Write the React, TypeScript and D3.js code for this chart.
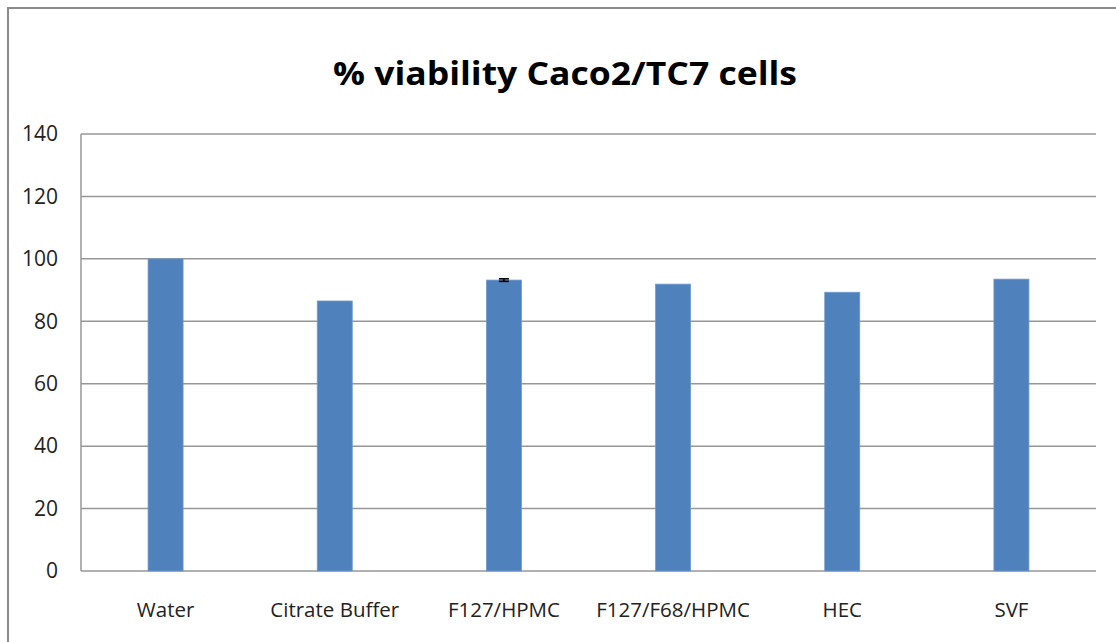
import React from 'react';
import * as d3 from 'd3';

const categories = ['Water', 'Citrate Buffer', 'F127/HPMC', 'F127/F68/HPMC', 'HEC', 'SVF'];
const viability = [100, 86.5, 93.2, 91.9, 89.3, 93.5];
const errors = [0, 0, 0.4, 0, 0, 0];
const yTicks = [0, 20, 40, 60, 80, 100, 120, 140];
const title = '% viability Caco2/TC7 cells';

const width = 1116;
const height = 642;
const margin = { top: 134, right: 20, bottom: 71, left: 81 };

const App: React.FC = () => {
  const innerW = 1096 - margin.left;
  const innerH = 571 - margin.top;

  const x = d3.scaleBand<string>().domain(categories).range([0, innerW]).padding(0);
  const y = d3.scaleLinear().domain([0, 140]).range([innerH, 0]);
  const barW = x.bandwidth() * 0.207;

  return (
    <svg width={width} height={height} style={{ position: 'absolute', left: 0, top: 0, background: '#fff' }}>
      {/* outer chart frame */}
      <rect x={8} y={8} width={1130} height={660} fill="#fff" stroke="#8a8a8a" strokeWidth={2} />
      <text
        x={565}
        y={85}
        textAnchor="middle"
        fontFamily="'Open Sans', sans-serif"
        fontWeight="bold"
        fontSize={33}
        textLength={464}
        lengthAdjust="spacingAndGlyphs"
        fill="#000"
      >
        {title}
      </text>
      <g transform={`translate(${margin.left},${margin.top})`}>
        {yTicks.map(t => (
          <g key={t}>
            <line x1={0} x2={innerW} y1={y(t)} y2={y(t)} stroke="#979797" strokeWidth={1.5} />
            <text
              x={-23}
              y={y(t)}
              dy="0.35em"
              textAnchor="end"
              fontFamily="'Open Sans', sans-serif"
              fontSize={21}
              fill="#222"
            >
              {t}
            </text>
          </g>
        ))}
        <line x1={0} x2={0} y1={0} y2={innerH} stroke="#979797" strokeWidth={1.5} />
        {categories.map((c, i) => {
          const cx = (x(c) || 0) + x.bandwidth() / 2;
          const v = viability[i];
          return (
            <g key={c}>
              <rect
                x={cx - barW / 2}
                y={y(v)}
                width={barW}
                height={innerH - y(v)}
                fill="#4F81BD"
                stroke="#7199cc"
                strokeWidth={0.8}
              />
              {errors[i] > 0 && (
                <g stroke="#000" strokeWidth={1.6}>
                  <line x1={cx} x2={cx} y1={y(v + errors[i])} y2={y(v - errors[i])} />
                  <line x1={cx - 5} x2={cx + 5} y1={y(v + errors[i])} y2={y(v + errors[i])} />
                  <line x1={cx - 5} x2={cx + 5} y1={y(v - errors[i])} y2={y(v - errors[i])} />
                </g>
              )}
              <text
                x={cx}
                y={innerH + 46}
                textAnchor="middle"
                fontFamily="'Open Sans', sans-serif"
                fontSize={20.5}
                fill="#222"
              >
                {c}
              </text>
            </g>
          );
        })}
      </g>
    </svg>
  );
};

export default App;
